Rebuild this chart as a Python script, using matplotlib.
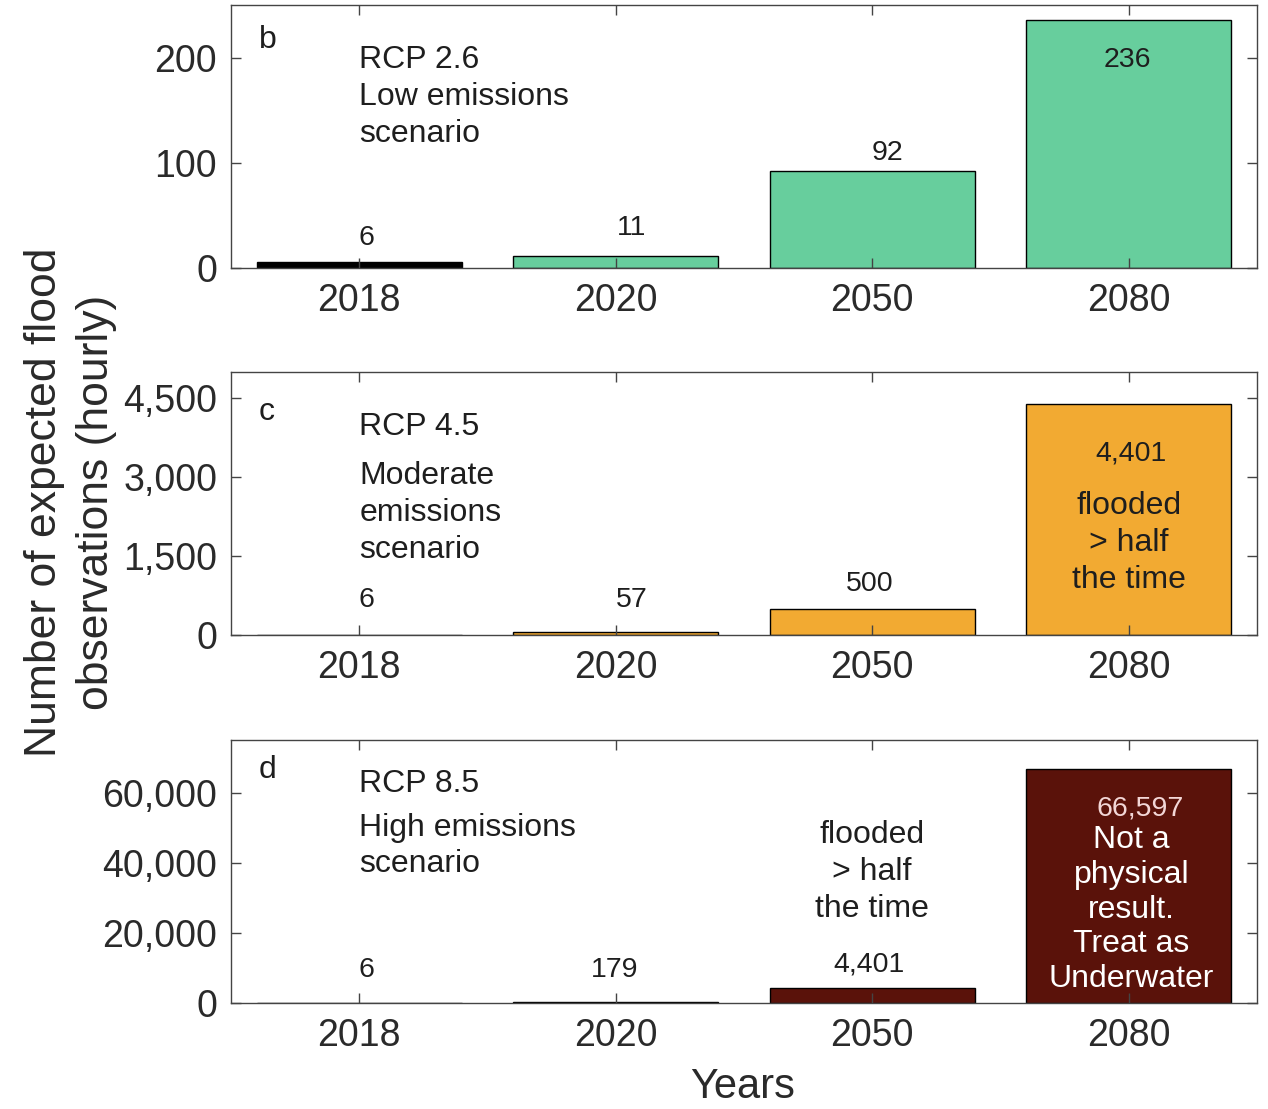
import matplotlib
matplotlib.use("Agg")
import matplotlib.pyplot as plt
from matplotlib.ticker import FuncFormatter

plt.rcParams['font.family'] = ['Liberation Sans', 'DejaVu Sans']

# ---- data ----
years = ['2018', '2020', '2050', '2080']
rcp26 = [6, 11, 92, 236]
rcp45 = [6, 57, 500, 4401]
rcp85 = [6, 179, 4401, 66597]

panel_letters = ['b', 'c', 'd']
rcp_names = ['RCP 2.6', 'RCP 4.5', 'RCP 8.5']
scenario_text = ['Low emissions\nscenario', 'Moderate\nemissions\nscenario',
                 'High emissions\nscenario']
yticks_b = [0, 100, 200]
yticks_c = [0, 1500, 3000, 4500]
yticks_d = [0, 20000, 40000, 60000]

# ---- styles ----
GREEN = '#67CE9D'
ORANGE = '#F2AA32'
DARKRED = '#5A120A'
TXT = '#1e1e1e'

W, H = 1268, 1109
fig = plt.figure(figsize=(W / 100, H / 100), dpi=100)

left = 231 / W
width = 1026 / W
height = 263 / H
bottoms = [(H - 268) / H, (H - 635) / H, (H - 1003) / H]

series = [rcp26, rcp45, rcp85]
colors = [GREEN, ORANGE, DARKRED]
ylims = [250, 5000, 75000]
yticks = [yticks_b, yticks_c, yticks_d]

# label placement (x offset in category units, y in axes fraction)
label_pos = [
    [(0.027, 0.114), (0.062, 0.152), (0.058, 0.437), (-0.004, 0.79)],
    [(0.027, 0.133), (0.062, 0.133), (-0.008, 0.194), (0.008, 0.692)],
    [(0.027, 0.125), (-0.004, 0.125), (-0.012, 0.148), (0.043, 0.741)],
]
label_colors = [[TXT] * 4, [TXT] * 4, [TXT, TXT, TXT, '#F3D6D6']]
letter_y = [0.867, 0.848, 0.886]
rcp_y = [0.79, 0.79, 0.833]
scen_y = [0.58, 0.464, 0.597]

ANN = 23
xs = list(range(1, len(years) + 1))
fmt = FuncFormatter(lambda v, p: f"{int(v):,}")

for i in range(3):
    ax = fig.add_axes([left, bottoms[i], width, height])
    vals = series[i]
    cols = ['black'] + [colors[i]] * (len(vals) - 1)
    ax.bar(xs, vals, width=0.8, color=cols, edgecolor='black', linewidth=1.0)
    ax.set_xlim(0.5, 4.5)
    ax.set_ylim(0, ylims[i])
    ax.set_xticks(xs)
    ax.set_xticklabels(years)
    ax.set_yticks(yticks[i])
    ax.yaxis.set_major_formatter(fmt)
    ax.tick_params(direction='in', length=7, width=1, top=True, right=True,
                   labelsize=27, labelcolor='#2a2a2a', color='#444444')
    ax.tick_params(axis='x', pad=11)
    ax.tick_params(axis='y', pad=10)
    for s in ax.spines.values():
        s.set_color('#444444')
        s.set_linewidth(1.0)

    for j, v in enumerate(vals):
        dx, yf = label_pos[i][j]
        ax.text(xs[j] + dx, yf, f"{v:,}", transform=ax.get_xaxis_transform(),
                ha='center', va='center', fontsize=20.5, color=label_colors[i][j])

    ax.text(0.027, letter_y[i], panel_letters[i], transform=ax.transAxes,
            ha='left', va='center', fontsize=23, color=TXT)
    ax.text(1.0, rcp_y[i], rcp_names[i], transform=ax.get_xaxis_transform(),
            ha='left', va='center', fontsize=ANN, color=TXT)
    ax.text(1.0, scen_y[i], scenario_text[i], transform=ax.get_xaxis_transform(),
            ha='left', va='center', fontsize=ANN, color=TXT, linespacing=1.3)
    if i == 1:
        ax.text(4.0, 0.350, 'flooded\n> half\nthe time',
                transform=ax.get_xaxis_transform(), ha='center', va='center',
                fontsize=ANN, color=TXT, linespacing=1.3)
    if i == 2:
        ax.text(3.0, 0.498, 'flooded\n> half\nthe time',
                transform=ax.get_xaxis_transform(), ha='center', va='center',
                fontsize=ANN, color=TXT, linespacing=1.3)
        ax.text(4.01, 0.3555, 'Not a\nphysical\nresult.\nTreat as\nUnderwater',
                transform=ax.get_xaxis_transform(), ha='center', va='center',
                fontsize=ANN, color='white', linespacing=1.2)

fig.text(70.5 / W, (H - 502) / H, 'Number of expected flood\nobservations (hourly)',
         rotation=90, ha='center', va='center', fontsize=32, color='#2a2a2a',
         linespacing=1.35)
fig.text(743 / W, (H - 1087) / H, 'Years', ha='center', va='center',
         fontsize=30, color='#2a2a2a')

fig.savefig('out.png', dpi=100)
